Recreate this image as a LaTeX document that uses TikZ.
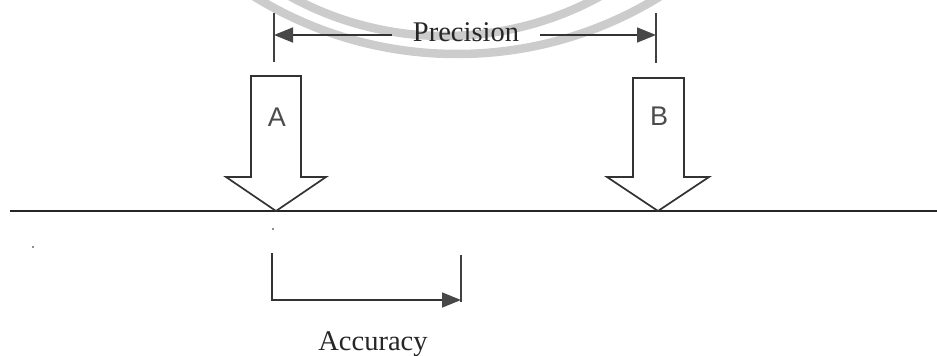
\documentclass[tikz,border=0pt]{standalone}
\usepackage{fontspec}
\setmainfont{Liberation Serif}
\newfontfamily\labelsans{Liberation Sans}
\usetikzlibrary{arrows.meta}
\tikzset{
  ground/.style={line width=1.8pt, draw=black!85},
  blockarrow/.style={line width=1.7pt, draw=black!80, fill=white, line join=miter},
  tickline/.style={line width=1.5pt, draw=black!75},
  dimline/.style={line width=1.6pt, draw=black!80,
    -{Triangle[length=19pt,width=15pt,color=black!72]}},
  serifword/.style={font=\fontsize{28.5}{32}\selectfont, text=black!85, inner xsep=21pt, inner ysep=2pt},
  sansletter/.style={font=\labelsans\fontsize{27}{30}\selectfont, text=black!70},
  stamp/.style={draw=black!20, line width=8.5pt},
  speck/.style={fill=black!60, draw=none},
}
\begin{document}
\begin{tikzpicture}[x=1pt,y=-1pt]
  \useasboundingbox (0,0) rectangle (937,356);

  % faint circular stamp behind the upper dimension
  \begin{scope}
    \clip (0,0) rectangle (937,356);
    \draw[stamp] (457,-332) circle[radius=386pt];
    \draw[stamp] (445,-286) circle[radius=322pt];
  \end{scope}

  % reference surface
  \coordinate (gl) at (10,211);
  \coordinate (gr) at (937,211);
  \draw[ground] (gl) -- (gr);

  % block arrow A
  \coordinate (tipA) at (276,211);
  \draw[blockarrow] (251,76) -- (301,76) -- (301,177) -- (326,177) -- (tipA)
    -- (226,177) -- (251,177) -- cycle;
  \node[sansletter] (labA) at (277,117) {A};

  % block arrow B
  \coordinate (tipB) at (658,211);
  \draw[blockarrow] (633,78) -- (684,78) -- (684,177) -- (709,177) -- (tipB)
    -- (607,177) -- (633,177) -- cycle;
  \node[sansletter] (labB) at (659,116) {B};

  % precision dimension between the two arrows
  \coordinate (pLt) at (274,13);
  \coordinate (pLb) at (274,62);
  \coordinate (pRt) at (656,13);
  \coordinate (pRb) at (656,63);
  \coordinate (pL) at (274,35);
  \coordinate (pR) at (656,35);
  \draw[tickline] (pLt) -- (pLb);
  \draw[tickline] (pRt) -- (pRb);
  \node[serifword] (prec) at (466,32) {Precision};
  \draw[dimline] (prec.west |- pL) -- (pL);
  \draw[dimline] (prec.east |- pR) -- (pR);

  % accuracy dimension below the surface
  \coordinate (aLt) at (272,253);
  \coordinate (aL) at (272,300);
  \coordinate (aRt) at (461,255);
  \coordinate (aRb) at (461,302);
  \coordinate (aR) at (461,300);
  \draw[tickline] (aRt) -- (aRb);
  \draw[dimline] (aLt) -- (aL) -- (aR);
  \node[serifword] (acc) at (373,344) {Accuracy};

  % small specks
  \fill[speck] (273,229) circle[radius=1.2pt];
  \fill[speck] (33,247) circle[radius=1.2pt];
\end{tikzpicture}
\end{document}
